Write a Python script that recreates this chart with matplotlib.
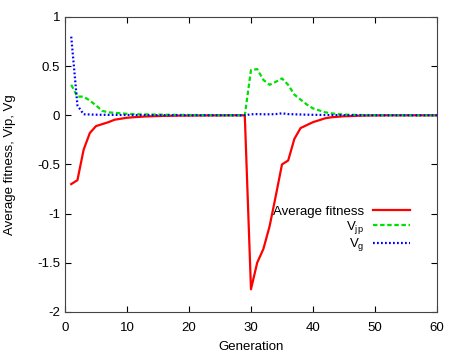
import numpy as np
import matplotlib
matplotlib.use("Agg")
import matplotlib.pyplot as plt

plt.rcParams['font.family'] = ['Liberation Sans', 'DejaVu Sans']
plt.rcParams['mathtext.default'] = 'regular'
plt.rcParams['axes.unicode_minus'] = False

# data
generation = list(range(1, 61))
avg_fitness = [
    -0.70, -0.66, -0.35, -0.18, -0.11, -0.09, -0.07, -0.045, -0.035, -0.025,
    -0.02, -0.016, -0.012, -0.01, -0.008, -0.006, -0.005, -0.004, -0.003, -0.003,
    -0.002, -0.002, -0.001, -0.001, -0.001, 0.0, 0.0, 0.0, 0.0, -1.77,
    -1.50, -1.36, -1.13, -0.82, -0.50, -0.46, -0.24, -0.13, -0.10, -0.07,
    -0.05, -0.03, -0.02, -0.015, -0.01, -0.008, -0.005, -0.003, -0.002, -0.001,
    -0.001, 0.0, 0.0, 0.0, 0.0, 0.0, 0.0, 0.0, 0.0, 0.0,
]
v_jp = [
    0.31, 0.19, 0.19, 0.15, 0.10, 0.045, 0.03, 0.025, 0.02, 0.015,
    0.012, 0.01, 0.009, 0.008, 0.007, 0.006, 0.005, 0.004, 0.004, 0.003,
    0.003, 0.002, 0.002, 0.002, 0.001, 0.001, 0.001, 0.0, 0.0, 0.46,
    0.47, 0.36, 0.31, 0.34, 0.375, 0.31, 0.21, 0.16, 0.11, 0.07,
    0.05, 0.03, 0.02, 0.012, 0.008, 0.005, 0.004, 0.003, 0.002, 0.002,
    0.001, 0.001, 0.001, 0.0, 0.0, 0.0, 0.0, 0.0, 0.0, 0.0,
]
v_g = [
    0.80, 0.10, 0.01, 0.008, 0.006, 0.005, 0.004, 0.004, 0.003, 0.003,
    0.002, 0.002, 0.002, 0.001, 0.001, 0.001, 0.001, 0.001, 0.0, 0.0,
    0.0, 0.0, 0.0, 0.0, 0.0, 0.0, 0.0, 0.0, 0.0, 0.01,
    0.012, 0.01, 0.01, 0.012, 0.02, 0.012, 0.01, 0.008, 0.006, 0.005,
    0.004, 0.003, 0.002, 0.002, 0.001, 0.001, 0.001, 0.0, 0.0, 0.0,
    0.0, 0.0, 0.0, 0.0, 0.0, 0.0, 0.0, 0.0, 0.0, 0.0,
]
x_ticks = [0, 10, 20, 30, 40, 50, 60]
y_ticks = [-2, -1.5, -1, -0.5, 0, 0.5, 1]
y_ticklabels = ['-2', '-1.5', '-1', '-0.5', '0', '0.5', '1']

fig = plt.figure(figsize=(4.58, 3.54), dpi=100)
ax = fig.add_axes([0.142, 0.119, 0.812, 0.833])

ax.plot(generation, avg_fitness, color='#ff0000', lw=1.6, label='Average fitness')
ax.plot(generation, v_jp, color='#00e000', lw=1.6, ls=(0, (2, 1.2)), label='V$_{jp}$')
ax.plot(generation, v_g, color='#0000ff', lw=1.6, ls=(0, (0.8, 1.0)), label='V$_g$')

ax.set_xlim(0, 60)
ax.set_ylim(-2, 1)
ax.set_xticks(x_ticks)
ax.set_yticks(y_ticks)
ax.set_yticklabels(y_ticklabels)
ax.tick_params(direction='in', top=True, right=True, labelsize=9.5, length=4, width=0.8)
ax.tick_params(axis='x', pad=7)
for s in ax.spines.values():
    s.set_linewidth(0.8)
    s.set_color('#444444')

ax.set_xlabel('Generation', fontsize=9.5, labelpad=5)
ax.set_ylabel('Average fitness, Vip, Vg', fontsize=9.5, labelpad=15)

ax.legend(loc='upper right', bbox_to_anchor=(0.96, 0.40), frameon=False,
          markerfirst=False, fontsize=9.5, handlelength=2.8, labelspacing=0.05,
          handletextpad=0.7)

fig.savefig('out.png', dpi=100)
